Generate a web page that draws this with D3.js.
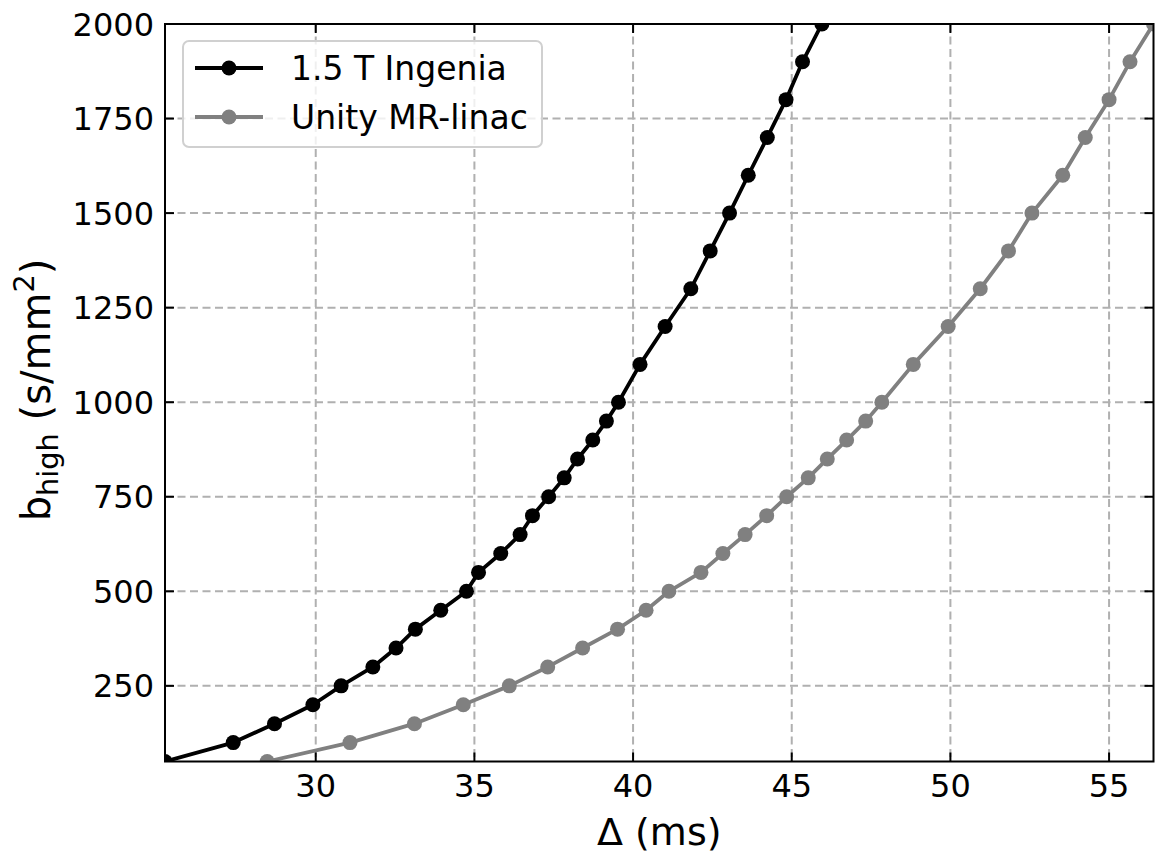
<!DOCTYPE html>
<html>
<head>
<meta charset="utf-8">
<script src="https://cdn.jsdelivr.net/npm/d3@7"></script>
<style>
  html, body { margin: 0; padding: 0; background: #fff; }
  svg { display: block; font-family: "DejaVu Sans", sans-serif; }
</style>
</head>
<body>
<svg id="chart" width="1158" height="854"></svg>
<script>
// ---- data ----
const seriesNames = ["1.5 T Ingenia", "Unity MR-linac"];
const seriesColors = ["#000000", "#808080"];
const bValues = [50, 100, 150, 200, 250, 300, 350, 400, 450, 500, 550, 600, 650, 700, 750, 800, 850, 900, 950, 1000, 1100, 1200, 1300, 1400, 1500, 1600, 1700, 1800, 1900, 2000];
const deltaIngenia = [25.25, 27.40, 28.70, 29.91, 30.80, 31.80, 32.53, 33.14, 33.94, 34.75, 35.13, 35.83, 36.44, 36.83, 37.34, 37.83, 38.25, 38.73, 39.16, 39.54, 40.22, 41.01, 41.82, 42.43, 43.04, 43.63, 44.23, 44.82, 45.34, 45.95];
const deltaUnity = [28.47, 31.08, 33.11, 34.65, 36.10, 37.31, 38.41, 39.51, 40.41, 41.13, 42.14, 42.83, 43.53, 44.21, 44.84, 45.52, 46.12, 46.73, 47.33, 47.84, 48.83, 49.93, 50.94, 51.83, 52.57, 53.54, 54.25, 55.00, 55.66, 56.40];
const xTicks = [30, 35, 40, 45, 50, 55];
const yTicks = [250, 500, 750, 1000, 1250, 1500, 1750, 2000];
const xDomain = [25.25, 56.40];
const yDomain = [50, 2000];

// ---- layout ----
const svg = d3.select("#chart");
const L = 165, R = 1153.5, T = 24, B = 761.5;
const x = d3.scaleLinear().domain(xDomain).range([L, R]);
const y = d3.scaleLinear().domain(yDomain).range([B, T]);
const tickFont = 32, labelFont = 38, yLabelFont = 40, legendFont = 33;

svg.append("defs").append("clipPath").attr("id", "plotclip")
  .append("rect").attr("x", L).attr("y", T).attr("width", R - L).attr("height", B - T);

// grid
const grid = svg.append("g");
grid.selectAll(".gx").data(xTicks).join("line")
  .attr("x1", d => x(d)).attr("x2", d => x(d)).attr("y1", T).attr("y2", B)
  .attr("stroke", "#b0b0b0").attr("stroke-width", 2).attr("stroke-dasharray", "8,4.5");
grid.selectAll(".gy").data(yTicks).join("line")
  .attr("y1", d => y(d)).attr("y2", d => y(d)).attr("x1", L).attr("x2", R)
  .attr("stroke", "#b0b0b0").attr("stroke-width", 2).attr("stroke-dasharray", "8,4.5");

// series
const series = [deltaIngenia, deltaUnity];
const plot = svg.append("g").attr("clip-path", "url(#plotclip)");
const line = d3.line().x(d => x(d[0])).y(d => y(d[1]));
series.forEach((xs, i) => {
  const pts = xs.map((v, j) => [v, bValues[j]]);
  plot.append("path").datum(pts).attr("d", line)
    .attr("fill", "none").attr("stroke", seriesColors[i]).attr("stroke-width", 3.8)
    .attr("stroke-linejoin", "round");
  plot.selectAll(".m" + i).data(pts).join("circle")
    .attr("cx", d => x(d[0])).attr("cy", d => y(d[1])).attr("r", 7.5)
    .attr("fill", seriesColors[i]);
});

// axes (ticks inward, all four sides)
const tickLen = 9;
const axes = svg.append("g");
axes.selectAll(".tb").data(xTicks).join("line")
  .attr("x1", d => x(d)).attr("x2", d => x(d)).attr("y1", B).attr("y2", B - tickLen)
  .attr("stroke", "#000").attr("stroke-width", 2);
axes.selectAll(".tt").data(xTicks).join("line")
  .attr("x1", d => x(d)).attr("x2", d => x(d)).attr("y1", T).attr("y2", T + tickLen)
  .attr("stroke", "#000").attr("stroke-width", 2);
axes.selectAll(".tl").data(yTicks).join("line")
  .attr("y1", d => y(d)).attr("y2", d => y(d)).attr("x1", L).attr("x2", L + tickLen)
  .attr("stroke", "#000").attr("stroke-width", 2);
axes.selectAll(".tr").data(yTicks).join("line")
  .attr("y1", d => y(d)).attr("y2", d => y(d)).attr("x1", R).attr("x2", R - tickLen)
  .attr("stroke", "#000").attr("stroke-width", 2);
axes.append("rect").attr("x", L).attr("y", T).attr("width", R - L).attr("height", B - T)
  .attr("fill", "none").attr("stroke", "#000").attr("stroke-width", 2);

// tick labels
axes.selectAll(".xl").data(xTicks).join("text")
  .attr("x", d => x(d)).attr("y", B + 11 + tickFont * 0.76)
  .attr("text-anchor", "middle").attr("font-size", tickFont).attr("fill", "#000")
  .text(d => d);
axes.selectAll(".yl").data(yTicks).join("text")
  .attr("x", L - 11).attr("y", d => y(d)).attr("dy", "0.36em")
  .attr("text-anchor", "end").attr("font-size", tickFont).attr("fill", "#000")
  .text(d => d);

// axis labels
svg.append("text").attr("x", (L + R) / 2).attr("y", 845)
  .attr("text-anchor", "middle").attr("font-size", labelFont).attr("fill", "#000")
  .text("Δ (ms)");
const yl = svg.append("text")
  .attr("transform", `translate(50,390) rotate(-90)`)
  .attr("text-anchor", "middle").attr("font-size", yLabelFont).attr("fill", "#000");
yl.append("tspan").text("b");
yl.append("tspan").attr("font-size", yLabelFont * 0.72).attr("dy", 8).text("high");
yl.append("tspan").attr("dy", -8).text(" (s/mm");
yl.append("tspan").attr("font-size", yLabelFont * 0.72).attr("dy", -16).text("2");
yl.append("tspan").attr("dy", 16).text(")");

// legend
const lg = svg.append("g");
lg.append("rect").attr("x", 183).attr("y", 41).attr("width", 359).attr("height", 106)
  .attr("rx", 6).attr("fill", "#fff").attr("fill-opacity", 0.8)
  .attr("stroke", "#d0d0d0").attr("stroke-width", 2);
const rowsY = [68, 117];
seriesNames.forEach((name, i) => {
  lg.append("line").attr("x1", 195).attr("x2", 263).attr("y1", rowsY[i]).attr("y2", rowsY[i])
    .attr("stroke", seriesColors[i]).attr("stroke-width", 3.8);
  lg.append("circle").attr("cx", 229).attr("cy", rowsY[i]).attr("r", 7.5).attr("fill", seriesColors[i]);
  lg.append("text").attr("x", 291).attr("y", rowsY[i]).attr("dy", "0.36em")
    .attr("font-size", legendFont).attr("fill", "#000").text(name);
});
</script>
</body>
</html>
